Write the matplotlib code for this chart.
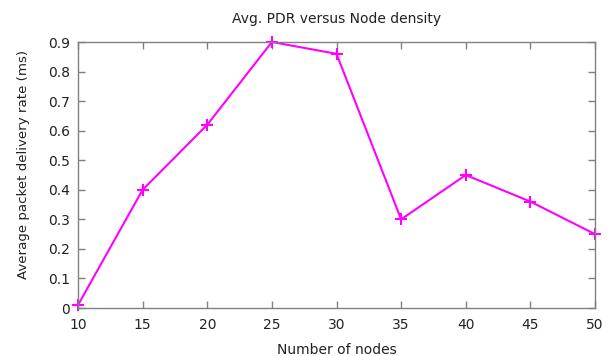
import matplotlib
matplotlib.use("Agg")
import matplotlib.pyplot as plt

nodes = [10, 15, 20, 25, 30, 35, 40, 45, 50]
pdr = [0.01, 0.40, 0.62, 0.90, 0.86, 0.30, 0.45, 0.36, 0.25]
xticks = [10, 15, 20, 25, 30, 35, 40, 45, 50]
yticks = [0, 0.1, 0.2, 0.3, 0.4, 0.5, 0.6, 0.7, 0.8, 0.9]
ylabels = ["0", "0.1", "0.2", "0.3", "0.4", "0.5", "0.6", "0.7", "0.8", "0.9"]

plt.rcParams['font.family'] = ['DejaVu Sans']
fig = plt.figure(figsize=(6.11, 3.56), dpi=100)
ax = fig.add_axes([78/611, 1 - 308/356, (595-78)/611, (308-42)/356])
ax.plot(nodes, pdr, color='#ff00ff', linewidth=1.5, marker='+', markersize=9, markeredgewidth=1.5, clip_on=False)
ax.set_xlim(10, 50)
ax.set_ylim(0, 0.9)
ax.set_xticks(xticks)
ax.set_yticks(yticks)
ax.set_yticklabels(ylabels)
ax.tick_params(direction='in', top=True, right=True, length=5, width=1, color='#808080', labelsize=10, colors='#222222', pad=6)
ax.tick_params(axis='x', pad=7)
for s in ax.spines.values():
    s.set_color('#808080')
    s.set_linewidth(1)
ax.set_title("Avg. PDR versus Node density", fontsize=10, color='#222222', pad=14)
ax.set_xlabel("Number of nodes", fontsize=10, color='#222222', labelpad=8)
ax.set_ylabel("Average packet delivery rate (ms)", fontsize=9.6, color='#222222')
ax.yaxis.set_label_coords(-0.093, 0.54)
fig.savefig("out.png", dpi=100)
